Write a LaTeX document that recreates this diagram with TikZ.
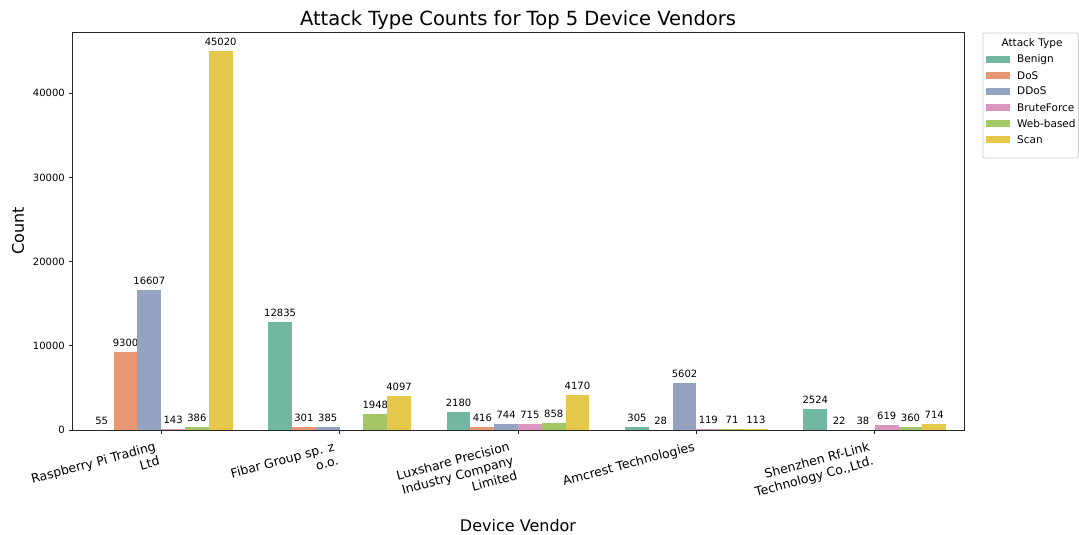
\documentclass[tikz,border=0pt]{standalone}
\usepackage{fontspec}
\setmainfont{DejaVu Sans}
\usetikzlibrary{positioning}
\definecolor{benign}{HTML}{71B7A1}
\definecolor{dos}{HTML}{E99675}
\definecolor{ddos}{HTML}{95A3C3}
\definecolor{brute}{HTML}{DB96C0}
\definecolor{webbased}{HTML}{A2C764}
\definecolor{scan}{HTML}{E5C849}
\tikzset{x=1pt, y=-1pt, % one unit is one pixel, y runs down
axisline/.style={line width=0.8pt, black!85}, % frame and ticks
barlabel/.style={anchor=base, inner sep=0, font=\fontsize{10}{12}\selectfont}, % counts over the bars
ylabel/.style={anchor=east, inner sep=0, font=\fontsize{10}{12}\selectfont}, % y tick labels
vendortick/.style={anchor=north east, rotate=15, align=right, inner sep=0, font=\fontsize{12.5}{15}\selectfont}, % x tick labels
legendframe/.style={draw=black!20, fill=white, rounded corners=2pt, line width=0.8pt}, % legend box
legendtext/.style={anchor=base west, inner sep=0, font=\fontsize{10.5}{12}\selectfont}, % legend entries
}
% vendor, attack type, count, colour
\newcommand{\attackbar}[4]{%
  \edef\barleft{\fpeval{161.2+178.4*#1+(#2-3)*23.787}}%
  \edef\bartop{\fpeval{430-#3*398/47271}}%
  \fill[#4] (\barleft,430) rectangle ({\barleft+23.787},\bartop);
  \node[barlabel] (n#1#2) at ({\barleft+11.893},{\bartop-5.5}) {#3};
}

\begin{document}
\begin{tikzpicture}
    \useasboundingbox[fill=white] (0,0) rectangle (1079,535);
    \node[anchor=base, font=\fontsize{19.5}{22}\selectfont] (title) at (518,26) {Attack Type Counts for Top 5 Device Vendors};

    % Raspberry Pi Trading Ltd
    \attackbar{0}{0}{55}{benign}
    \attackbar{0}{1}{9300}{dos}
    \attackbar{0}{2}{16607}{ddos}
    \attackbar{0}{3}{143}{brute}
    \attackbar{0}{4}{386}{webbased}
    \attackbar{0}{5}{45020}{scan}
    % Fibar Group
    \attackbar{1}{0}{12835}{benign}
    \attackbar{1}{1}{301}{dos}
    \attackbar{1}{2}{385}{ddos}
    \attackbar{1}{4}{1948}{webbased}
    \attackbar{1}{5}{4097}{scan}
    % Luxshare
    \attackbar{2}{0}{2180}{benign}
    \attackbar{2}{1}{416}{dos}
    \attackbar{2}{2}{744}{ddos}
    \attackbar{2}{3}{715}{brute}
    \attackbar{2}{4}{858}{webbased}
    \attackbar{2}{5}{4170}{scan}
    % Amcrest
    \attackbar{3}{0}{305}{benign}
    \attackbar{3}{1}{28}{dos}
    \attackbar{3}{2}{5602}{ddos}
    \attackbar{3}{3}{119}{brute}
    \attackbar{3}{4}{71}{webbased}
    \attackbar{3}{5}{113}{scan}
    % Shenzhen Rf-Link
    \attackbar{4}{0}{2524}{benign}
    \attackbar{4}{1}{22}{dos}
    \attackbar{4}{2}{38}{ddos}
    \attackbar{4}{3}{619}{brute}
    \attackbar{4}{4}{360}{webbased}
    \attackbar{4}{5}{714}{scan}

    \draw[axisline] (72,32) rectangle (964,430);
    \draw[axisline]
    (72,430) -- (68.5,430) (72,345.8) -- (68.5,345.8) (72,261.6) -- (68.5,261.6)
    (72,177.4) -- (68.5,177.4) (72,93.2) -- (68.5,93.2)
    (161.2,430) -- (161.2,433.5) (339.6,430) -- (339.6,433.5) (518,430) -- (518,433.5)
    (696.4,430) -- (696.4,433.5) (874.8,430) -- (874.8,433.5);
    \node[ylabel] (y0) at (65,430) {0};
    \node[ylabel] (y1) at (65,345.8) {10000};
    \node[ylabel] (y2) at (65,261.6) {20000};
    \node[ylabel] (y3) at (65,177.4) {30000};
    \node[ylabel] (y4) at (65,93.2) {40000};
    \node[rotate=90, font=\fontsize{16}{19}\selectfont] (count) at (18,231) {Count};

    \node[vendortick] (v0) at (154,441) {Raspberry Pi Trading\\Ltd};
    \node[vendortick] (v1) at (333,441) {Fibar Group sp. z\\o.o.};
    \node[vendortick] (v2) at (508,441) {Luxshare Precision\\Industry Company\\Limited};
    \node[vendortick] (v3) at (693,441) {Amcrest Technologies};
    \node[vendortick] (v4) at (868,441) {Shenzhen Rf-Link\\Technology Co.,Ltd.};
    \node[anchor=base, font=\fontsize{16}{19}\selectfont] (vendor) at (518,531) {Device Vendor};

    % legend
    \draw[legendframe] (983,33) rectangle (1078.4,158);
    \node[anchor=base, inner sep=0, font=\fontsize{10.5}{12}\selectfont] (legtitle) at (1032,46.5) {Attack Type};
    \fill[benign] (986,56) rectangle (1010,62.6);
    \node[legendtext] (l0) at (1017,63) {Benign};
    \fill[dos] (986,72) rectangle (1010,78.6);
    \node[legendtext] (l1) at (1017,79) {DoS};
    \fill[ddos] (986,88) rectangle (1010,94.6);
    \node[legendtext] (l2) at (1017,95) {DDoS};
    \fill[brute] (986,104) rectangle (1010,110.6);
    \node[legendtext] (l3) at (1017,111) {BruteForce};
    \fill[webbased] (986,120) rectangle (1010,126.6);
    \node[legendtext] (l4) at (1017,127) {Web-based};
    \fill[scan] (986,136) rectangle (1010,142.6);
    \node[legendtext] (l5) at (1017,143) {Scan};
\end{tikzpicture}
\end{document}
